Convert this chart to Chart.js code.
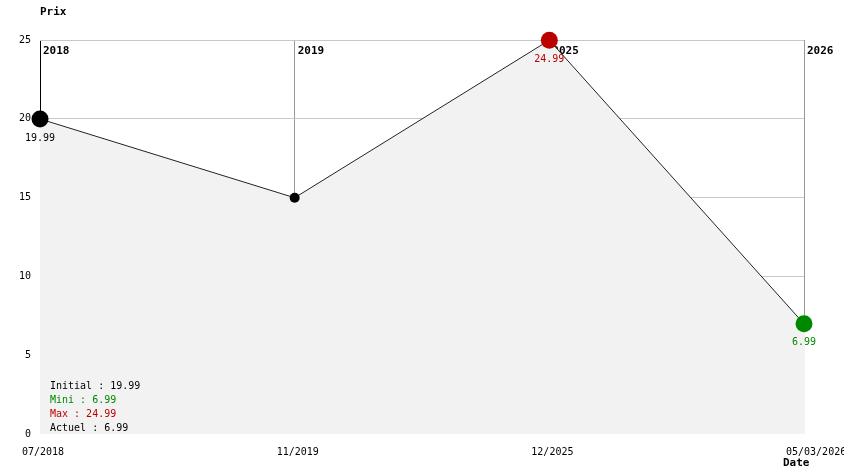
<!DOCTYPE html>
<html>
<head>
<meta charset="utf-8">
<script src="https://cdn.jsdelivr.net/npm/chart.js@4"></script>
<style>
  html, body { margin: 0; padding: 0; background: #fff; }
  #wrap { width: 844px; height: 474px; }
</style>
</head>
<body>
<div id="wrap"><canvas id="prix" width="844" height="474"></canvas></div>
<script>
// dates des relevés
var dates = ['07/2018', '11/2019', '12/2025', '05/03/2026'];
// années affichées en haut des lignes verticales
var annees = ['2018', '2019', '2025', '2026'];
// prix relevés
var prix = [19.99, 14.99, 24.99, 6.99];
// étiquettes sous les points (vide = pas d'étiquette)
var etiquettes = ['19.99', '', '24.99', '6.99'];

var ROUGE = '#bb0000';
var VERT = '#008800';
var GRIS_FOND = '#f2f2f2';
var MONO = '"DejaVu Sans Mono", "Liberation Mono", monospace';

var mini = Math.min.apply(null, prix);
var maxi = Math.max.apply(null, prix);

var couleurs = prix.map(function (p, i) {
    if (p === maxi) return ROUGE;
    if (p === mini) return VERT;
    return '#000';
});
var rayons = prix.map(function (p, i) {
    return (i === 0 || p === maxi || p === mini) ? 8.5 : 5;
});

var decor = {
    id: 'decor',
    beforeDatasetsDraw: function (chart) {
        var ctx = chart.ctx, x = chart.scales.x, area = chart.chartArea;
        ctx.save();
        ctx.fillStyle = '#000';
        ctx.font = 'bold 11px ' + MONO;
        ctx.textBaseline = 'middle';
        ctx.textAlign = 'left';
        annees.forEach(function (a, i) {
            ctx.fillText(a, x.getPixelForValue(i) + 3, area.top + 11);
        });
        ctx.restore();
    },
    beforeDatasetDraw: function (chart) {
        // la zone grise recouvre aussi la dernière verticale sous le point
        var meta = chart.getDatasetMeta(0);
        var dernier = meta.data[meta.data.length - 1];
        var ctx = chart.ctx;
        ctx.save();
        ctx.fillStyle = GRIS_FOND;
        ctx.fillRect(Math.floor(dernier.x), dernier.y, 1, chart.chartArea.bottom - dernier.y);
        ctx.restore();
    },
    afterDatasetsDraw: function (chart) {
        var ctx = chart.ctx;
        var meta = chart.getDatasetMeta(0);
        ctx.save();
        ctx.font = '10px ' + MONO;
        ctx.textAlign = 'center';
        ctx.textBaseline = 'middle';
        meta.data.forEach(function (pt, i) {
            if (!etiquettes[i]) return;
            ctx.fillStyle = couleurs[i];
            ctx.fillText(etiquettes[i], pt.x, pt.y + 19);
        });

        // titres des axes
        ctx.fillStyle = '#000';
        ctx.font = 'bold 11px ' + MONO;
        ctx.textAlign = 'left';
        ctx.fillText('Prix', 40, 12);
        ctx.fillText('Date', 783, 463);

        // résumé en bas à gauche
        var lignes = [
            ['Initial : ' + prix[0].toFixed(2), '#000'],
            ['Mini : ' + mini.toFixed(2), VERT],
            ['Max : ' + maxi.toFixed(2), ROUGE],
            ['Actuel : ' + prix[prix.length - 1].toFixed(2), '#000']
        ];
        ctx.font = '10px ' + MONO;
        lignes.forEach(function (l, i) {
            ctx.fillStyle = l[1];
            ctx.fillText(l[0], 50, 386 + i * 14);
        });
        ctx.restore();
    }
};

new Chart(document.getElementById('prix'), {
    type: 'line',
    data: {
        labels: dates,
        datasets: [{
            data: prix,
            borderColor: '#222',
            borderWidth: 1,
            backgroundColor: GRIS_FOND,
            fill: 'origin',
            tension: 0,
            pointRadius: rayons,
            pointBackgroundColor: couleurs,
            pointBorderColor: couleurs,
            pointBorderWidth: 0,
            clip: false
        }]
    },
    options: {
        responsive: false,
        animation: false,
        events: [],
        layout: { padding: { top: 40, right: 40, left: 0, bottom: 0 } },
        plugins: { legend: { display: false }, tooltip: { enabled: false } },
        scales: {
            x: {
                offset: false,
                border: { display: false },
                grid: {
                    drawTicks: false,
                    color: function (c) { return c.index === 0 ? '#000' : '#999'; }
                },
                ticks: {
                    autoSkip: false,
                    maxRotation: 0,
                    align: 'start',
                    labelOffset: -18,
                    padding: 12,
                    color: '#000',
                    font: { family: MONO, size: 10 }
                },
                afterFit: function (s) {
                    s.height = 40;
                    s.paddingLeft = 0;
                    s.paddingRight = 0;
                }
            },
            y: {
                min: 0,
                max: 25,
                border: { display: false },
                grid: {
                    drawTicks: false,
                    color: function (c) { return c.tick && c.tick.value === 0 ? 'rgba(0,0,0,0)' : '#c8c8c8'; }
                },
                ticks: {
                    stepSize: 5,
                    padding: 9,
                    color: '#000',
                    font: { family: MONO, size: 10 }
                },
                afterFit: function (s) {
                    s.width = 40;
                    s.paddingTop = 0;
                    s.paddingBottom = 0;
                }
            }
        }
    },
    plugins: [decor]
});
</script>
</body>
</html>
